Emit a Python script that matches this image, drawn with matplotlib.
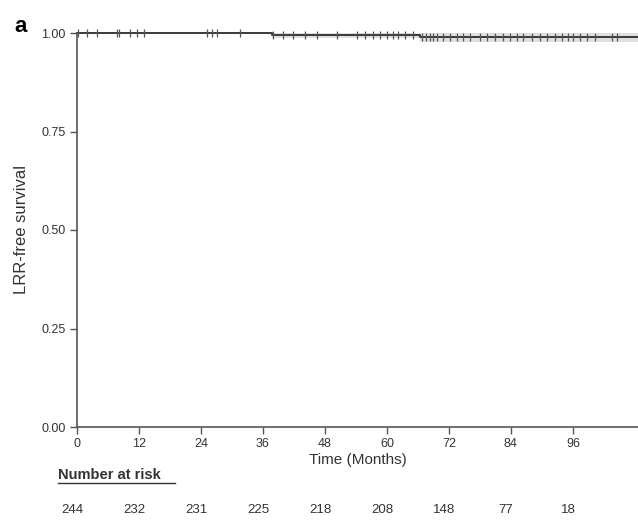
import matplotlib
matplotlib.use("Agg")
import matplotlib.pyplot as plt
import numpy as np

plt.rcParams['font.family'] = ['Liberation Sans Narrow', 'Liberation Sans', 'DejaVu Sans']

# Kaplan-Meier step data
step_times = [0, 37.7, 66.4, 108.6]
step_surv = [1.0, 0.9956, 0.989, 0.989]
ci_lower = [1.0, 0.988, 0.978, 0.978]

censor_times = [0.2, 1.9, 3.9, 7.7, 8.1, 10.3, 11.6, 12.9, 25.2, 26.1, 27.1, 31.5,
                37.9, 39.9, 41.8, 44.1, 46.4, 50.3, 54.2, 55.7, 57.3, 58.6, 60.0, 61.2,
                62.1, 63.5, 65.0, 66.8, 67.5, 68.3, 69.0, 69.7, 70.8, 72.2, 73.5, 74.7,
                76.1, 78.0, 79.4, 80.9, 82.5, 83.8, 85.2, 86.3, 88.1, 89.6, 91.0, 92.5,
                93.9, 95.0, 96.0, 97.4, 98.7, 100.3, 103.5, 104.5]

xticks = [0, 12, 24, 36, 48, 60, 72, 84, 96]
yticks = [0.0, 0.25, 0.5, 0.75, 1.0]
ytick_labels = ['0.00', '0.25', '0.50', '0.75', '1.00']
at_risk = [244, 232, 231, 225, 218, 208, 148, 77, 18]

fig = plt.figure(figsize=(6.38, 5.2), dpi=100)
ax = fig.add_axes([77/638, 1-427/520, 1-77/638, (427-33)/520])

ax.fill_between(step_times, ci_lower, [1.0]*len(step_times), step='post',
                color='#e0e0e0', linewidth=0, clip_on=False)
ax.step(step_times, step_surv, where='post', color='#3a3a3a', linewidth=1.4, clip_on=False)

def surv_at(t):
    idx = np.searchsorted(step_times, t, side='right') - 1
    return step_surv[idx]

cy = [surv_at(t) for t in censor_times]
ax.plot(censor_times, cy, linestyle='none', marker='|', markersize=6,
        markeredgewidth=0.9, color='#555555', clip_on=False)

ax.set_xlim(0, 108.6)
ax.set_ylim(0, 1.0)
ax.set_xticks(xticks)
ax.set_xticklabels([str(x) for x in xticks])
ax.set_yticks(yticks)
ax.set_yticklabels(ytick_labels)
for s in ['top', 'right']:
    ax.spines[s].set_visible(False)
for s in ['left', 'bottom']:
    ax.spines[s].set_color('#555555')
    ax.spines[s].set_linewidth(1.2)
ax.tick_params(axis='both', colors='#555555', labelcolor='#333333', labelsize=9,
               length=5, width=1)
ax.tick_params(axis='x', pad=3)
ax.tick_params(axis='y', pad=3)
ax.set_xlabel('Time (Months)', fontsize=11, color='#333333', labelpad=2)
ax.set_ylabel('LRR-free survival', fontsize=12, color='#333333', labelpad=9)

fig.text(21/638, 1-26/520, 'a', fontsize=16, fontweight='bold', ha='center', va='center',
         family=['Liberation Sans', 'DejaVu Sans'])

fig.text(58/638, 1-475/520, 'Number at risk', fontsize=10.5, fontweight='bold',
         color='#333333', ha='left', va='center')
fig.add_artist(plt.Line2D([58/638, 175/638], [1-483/520, 1-483/520],
                          color='#333333', linewidth=1.0, transform=fig.transFigure))

for xt, n in zip(xticks, at_risk):
    xd = ax.transData.transform((xt, 0))[0] - 5
    xf = fig.transFigure.inverted().transform((xd, 0))[0]
    fig.text(xf, 1-510/520, str(n), fontsize=9.5, color='#333333', ha='center', va='center')

fig.savefig('out.png', dpi=100)
